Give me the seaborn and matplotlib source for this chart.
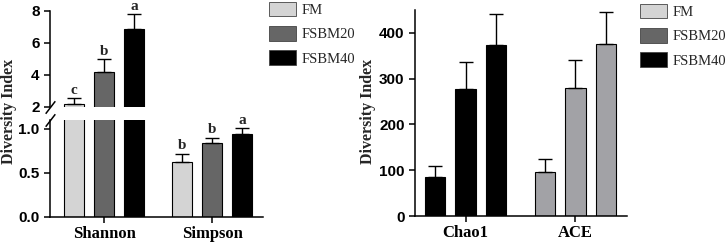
import pandas as pd
import matplotlib.pyplot as plt
import seaborn as sns
from matplotlib.patches import Patch
from matplotlib.container import BarContainer

# data
groups = ["FM", "FSBM20", "FSBM40"]
left_index = ["Shannon", "Simpson"]
left_values = {"FM": [2.15, 0.62], "FSBM20": [4.15, 0.84], "FSBM40": [6.87, 0.94]}
left_err = {"FM": [0.40, 0.10], "FSBM20": [0.80, 0.06], "FSBM40": [0.90, 0.07]}
left_letters = {"FM": ["c", "b"], "FSBM20": ["b", "b"], "FSBM40": ["a", "a"]}

right_index = ["Chao1", "ACE"]
right_values = {"FM": [86, 96], "FSBM20": [277, 279], "FSBM40": [373, 375]}
right_err = {"FM": [24, 28], "FSBM20": [59, 61], "FSBM40": [68, 70]}

group_colors = ["#d4d4d4", "#666666", "#000000"]
right_bar_colors = ["#000000", "#a2a2a6"]  # per index on the right panel


def long_df(index, values, err):
    rows = []
    for g in groups:
        for i, name in enumerate(index):
            rows.append({"index": name, "group": g, "value": values[g][i], "err": err[g][i]})
    return pd.DataFrame(rows)


df_left = long_df(left_index, left_values, left_err)
df_right = long_df(right_index, right_values, right_err)

sns.set_style("ticks")
plt.rcParams["font.family"] = ["Liberation Serif", "DejaVu Serif"]
plt.rcParams["axes.linewidth"] = 1.1
plt.rcParams["xtick.major.width"] = 1.1
plt.rcParams["ytick.major.width"] = 1.1
plt.rcParams["xtick.major.size"] = 4
plt.rcParams["ytick.major.size"] = 4
plt.rcParams["xtick.color"] = "black"
plt.rcParams["ytick.color"] = "black"
plt.rcParams["axes.edgecolor"] = "black"

W, H = 726, 245
fig = plt.figure(figsize=(W / 100, H / 100), dpi=100)


def px_axes(x0, x1, y0, y1):
    # y0 = top pixel, y1 = bottom pixel
    return fig.add_axes([x0 / W, 1 - y1 / H, (x1 - x0) / W, (y1 - y0) / H])


ax_top = px_axes(50, 263, 10.7, 106.7)
ax_bot = px_axes(50, 263, 120, 217)
ax_r = px_axes(415, 627, 10, 216)

TICKFONT = dict(fontfamily="Liberation Sans", fontweight="bold", fontsize=11)


def bar_containers(ax):
    return [c for c in ax.containers if isinstance(c, BarContainer)]


def draw_bars(ax, df, letters=None):
    sns.barplot(data=df, x="index", y="value", hue="group", hue_order=groups,
                palette=group_colors, width=0.83, gap=0.33, edgecolor="black",
                linewidth=0.8, errorbar=None, legend=False, ax=ax)
    conts = bar_containers(ax)
    for gi, g in enumerate(groups):
        sub = df[df["group"] == g]
        xs = [b.get_x() + b.get_width() / 2 for b in conts[gi]]
        ys = list(sub["value"])
        es = list(sub["err"])
        ax.errorbar(xs, ys, yerr=[[0] * len(es), es], fmt="none", ecolor="black",
                    elinewidth=1, capsize=5, capthick=1, zorder=1)
        if letters is not None:
            for x, y, e, t in zip(xs, ys, es, letters[g]):
                ax.annotate(t, xy=(x, y + e), xytext=(0, 1), textcoords="offset points",
                            ha="center", va="bottom", fontsize=11, fontweight="bold")
    ax.set_xlabel("")
    ax.set_ylabel("")


# left broken-axis panel
for ax in (ax_top, ax_bot):
    draw_bars(ax, df_left, left_letters)
    ax.set_xlim(-0.5, 1.47)
    sns.despine(ax=ax)

ax_top.set_ylim(2, 8)
ax_top.set_yticks([2, 4, 6, 8], ["2", "4", "6", "8"], **TICKFONT)
ax_top.spines["bottom"].set_visible(False)
ax_top.tick_params(axis="x", bottom=False, labelbottom=False)

ax_bot.set_ylim(0, 1.1)
ax_bot.set_yticks([0, 0.5, 1.0], ["0.0", "0.5", "1.0"], **TICKFONT)
ax_bot.set_xticks([0, 1], left_index, fontsize=12, fontweight="bold")
ax_bot.tick_params(axis="x", pad=2.5)

# break marks on the left spine
kw = dict(marker=[(-1, -1.3), (1, 1.3)], markersize=9, linestyle="none",
          color="black", mec="black", mew=1.1, clip_on=False)
ax_top.plot([0], [0], transform=ax_top.transAxes, **kw)
ax_bot.plot([0], [1], transform=ax_bot.transAxes, **kw)

# right panel
draw_bars(ax_r, df_right)
for bars in bar_containers(ax_r):
    for i, b in enumerate(bars):
        b.set_facecolor(right_bar_colors[i])
ax_r.set_xlim(-0.46, 1.47)
ax_r.set_ylim(0, 450)
ax_r.set_yticks([0, 100, 200, 300, 400], ["0", "100", "200", "300", "400"], **TICKFONT)
ax_r.set_xticks([0, 1], right_index, fontsize=12, fontweight="bold")
ax_r.tick_params(axis="x", pad=2.5)
sns.despine(ax=ax_r)

# y labels
fig.text(9 / W, 1 - 111 / H, "Diversity Index", rotation=90, ha="center", va="center",
         fontsize=11.5, fontweight="bold")
fig.text(368 / W, 1 - 111.5 / H, "Diversity Index", rotation=90, ha="center", va="center",
         fontsize=11.5, fontweight="bold")

# legends
handles = [Patch(facecolor=c, edgecolor="#444444", linewidth=0.6, label=g)
           for g, c in zip(groups, group_colors)]
leg_kw = dict(frameon=False, fontsize=10.5, handlelength=1.85, handleheight=1.15,
              labelspacing=0.62, handletextpad=0.4, borderpad=0, borderaxespad=0,
              loc="upper left", bbox_transform=fig.transFigure)
fig.legend(handles=handles, bbox_to_anchor=(269 / W, 1 - 2 / H), **leg_kw)
fig.legend(handles=handles, bbox_to_anchor=(640 / W, 1 - 4 / H), **leg_kw)

fig.savefig("out.png", dpi=100)
